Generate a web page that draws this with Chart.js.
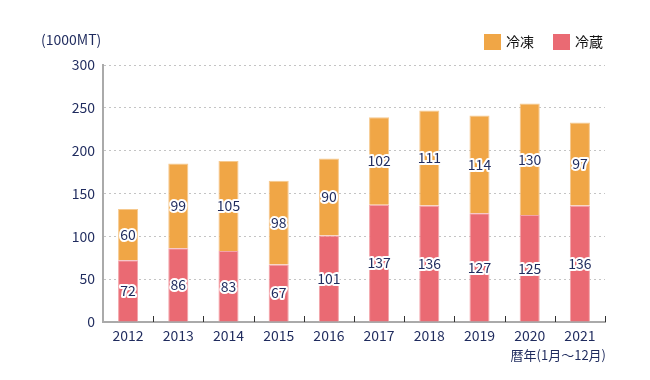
<!DOCTYPE html>
<html><head><meta charset="utf-8">
<script src="https://cdn.jsdelivr.net/npm/chart.js@4"></script>
<style>html,body{margin:0;padding:0;background:#fff}#w{width:650px;height:380px}</style>
</head><body><div id="w"><canvas id="c" width="650" height="380"></canvas></div>
<script>
const categories = ['2012','2013','2014','2015','2016','2017','2018','2019','2020','2021'];
const chilled = [72,86,83,67,101,137,136,127,125,136];   // 冷蔵
const frozen  = [60,99,105,98,90,102,111,114,130,97];    // 冷凍
const yTicks = [0,50,100,150,200,250,300];
const seriesNames = ['冷蔵','冷凍'];
const unitLabel = '(1000MT)';
const xAxisNote = '暦年(1月～12月)';

const NAVY = '#1f2b5e';
const FONT = '"Noto Sans CJK JP", "Noto Sans", sans-serif';
const RED = '#EA6A73', ORANGE = '#F0A646';

const extras = {
  id: 'extras',
  afterDatasetsDraw(chart) {
    const ctx = chart.ctx;
    const x = chart.scales.x;
    const area = chart.chartArea;
    ctx.save();
    ctx.strokeStyle = '#333';
    ctx.lineWidth = 1;
    const step = x.getPixelForValue(1) - x.getPixelForValue(0);
    for (let i = 1; i <= categories.length; i++) {
      const px = Math.round(x.getPixelForValue(i) - step / 2) + 0.5;
      ctx.beginPath(); ctx.moveTo(px, area.bottom); ctx.lineTo(px, area.bottom - 6); ctx.stroke();
    }
    ctx.font = '14px ' + FONT;
    ctx.textAlign = 'center'; ctx.textBaseline = 'middle';
    ctx.lineJoin = 'round';
    chart.data.datasets.forEach((ds, di) => {
      const meta = chart.getDatasetMeta(di);
      meta.data.forEach((bar, i) => {
        const cy = (bar.y + bar.base) / 2;
        ctx.lineWidth = 4; ctx.strokeStyle = '#fff';
        ctx.strokeText(String(ds.data[i]), bar.x, cy);
        ctx.fillStyle = NAVY;
        ctx.fillText(String(ds.data[i]), bar.x, cy);
      });
    });
    ctx.font = '14px ' + FONT;
    ctx.textAlign = 'left'; ctx.fillStyle = NAVY;
    ctx.fillText(unitLabel, 41, 40);
    ctx.font = '13px ' + FONT;
    ctx.textAlign = 'right';
    ctx.fillText(xAxisNote, 606, 355);
    ctx.font = '14px ' + FONT;
    ctx.textAlign = 'left';
    const items = [[seriesNames[1], ORANGE, 484], [seriesNames[0], RED, 553]];
    items.forEach(([t, c, lx]) => {
      ctx.fillStyle = c; ctx.fillRect(lx, 34, 17, 16);
      ctx.fillStyle = '#111'; ctx.fillText(t, lx + 22, 42);
    });
    ctx.restore();
  }
};

new Chart(document.getElementById('c'), {
  type: 'bar',
  data: {
    labels: categories,
    datasets: [
      { label: seriesNames[0], data: chilled, backgroundColor: RED, borderColor: '#f3a3a9', borderWidth: 1, barPercentage: 0.4, categoryPercentage: 1 },
      { label: seriesNames[1], data: frozen, backgroundColor: ORANGE, borderColor: '#f6c98e', borderWidth: 1, barPercentage: 0.4, categoryPercentage: 1 }
    ]
  },
  options: {
    responsive: false, animation: false,
    layout: { padding: { left: 0, top: 65, right: 45, bottom: 0 } },
    plugins: { legend: { display: false }, tooltip: { enabled: false } },
    scales: {
      x: {
        stacked: true,
        grid: { display: false, offset: true },
        border: { color: '#aaa', width: 2 },
        ticks: { color: NAVY, font: { family: FONT, size: 14 }, padding: -3 },
        afterFit(s) { s.height = 58; }
      },
      y: {
        stacked: true, min: 0, max: 300,
        afterBuildTicks(s) { s.ticks = yTicks.map(v => ({ value: v })); },
        grid: { color: '#c4c4c4', drawTicks: false, lineWidth: 1 },
        border: { color: '#aaa', width: 2, dash: [2, 3] },
        ticks: { color: NAVY, font: { family: FONT, size: 14 }, padding: 8 },
        afterFit(s) { s.width = 103; }
      }
    }
  },
  plugins: [extras]
});
</script></body></html>
